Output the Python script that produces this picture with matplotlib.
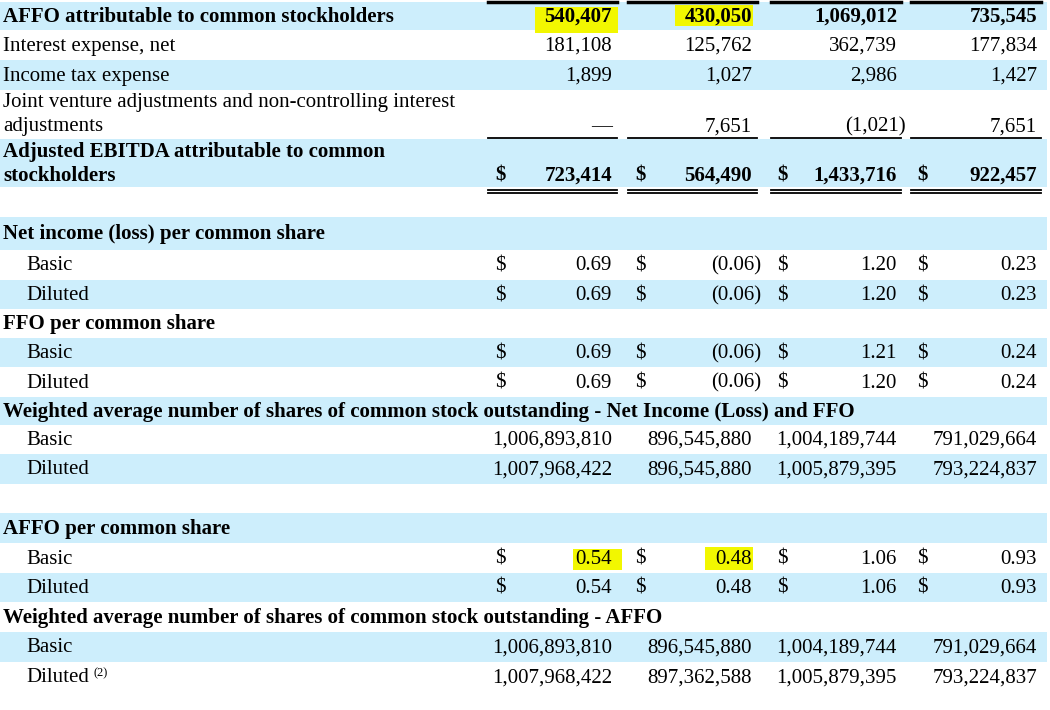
import matplotlib.pyplot as plt
from matplotlib.patches import Rectangle

plt.rcParams['font.family'] = ['Liberation Serif', 'DejaVu Serif']

# rows: (label lines, bold, indent, values, dollar, band)
labels = [
    ['AFFO attributable to common stockholders'],
    ['Interest expense, net'],
    ['Income tax expense'],
    ['Joint venture adjustments and non-controlling interest', 'adjustments'],
    ['Adjusted EBITDA attributable to common', 'stockholders'],
    [],
    ['Net income (loss) per common share'],
    ['Basic'], ['Diluted'],
    ['FFO per common share'],
    ['Basic'], ['Diluted'],
    ['Weighted average number of shares of common stock outstanding - Net Income (Loss) and FFO'],
    ['Basic'], ['Diluted'],
    [],
    ['AFFO per common share'],
    ['Basic'], ['Diluted'],
    ['Weighted average number of shares of common stock outstanding - AFFO'],
    ['Basic'], ['Diluted'],
]
values = [
    ['540,407', '430,050', '1,069,012', '735,545'],
    ['181,108', '125,762', '362,739', '177,834'],
    ['1,899', '1,027', '2,986', '1,427'],
    ['—', '7,651', '(1,021)', '7,651'],
    ['723,414', '564,490', '1,433,716', '922,457'],
    None,
    None,
    ['0.69', '(0.06)', '1.20', '0.23'],
    ['0.69', '(0.06)', '1.20', '0.23'],
    None,
    ['0.69', '(0.06)', '1.21', '0.24'],
    ['0.69', '(0.06)', '1.20', '0.24'],
    None,
    ['1,006,893,810', '896,545,880', '1,004,189,744', '791,029,664'],
    ['1,007,968,422', '896,545,880', '1,005,879,395', '793,224,837'],
    None,
    None,
    ['0.54', '0.48', '1.06', '0.93'],
    ['0.54', '0.48', '1.06', '0.93'],
    None,
    ['1,006,893,810', '896,545,880', '1,004,189,744', '791,029,664'],
    ['1,007,968,422', '897,362,588', '1,005,879,395', '793,224,837'],
]
bold_rows = {0, 4, 6, 9, 12, 16, 19}
dollar_rows = {4, 7, 8, 10, 11, 17, 18}

# row extents (top, bottom) in pixels
row_bounds = [(2, 30), (30, 60), (60, 90), (90, 139), (139, 187), (187, 217),
              (217, 250), (250, 280), (280, 309), (309, 338), (338, 367), (367, 397),
              (397, 425), (425, 454), (454, 484), (484, 513), (513, 543), (543, 573),
              (573, 602), (602, 632), (632, 662), (662, 692)]
blue_rows = {0, 2, 4, 6, 8, 10, 12, 14, 16, 18, 20}

col_right = [612, 752, 897, 1037]
col_dollar = [495, 635, 777, 917]
col_span = [(488, 617), (628, 757), (771, 901), (911, 1041)]

fig = plt.figure(figsize=(10.5, 7.1), dpi=100)
ax = fig.add_axes([0, 0, 1, 1])
ax.set_xlim(0, 1050)
ax.set_ylim(710, 0)
ax.axis('off')

fs = 15
blue = '#cdeefc'
yellow = '#f2f700'

for i, (t, b) in enumerate(row_bounds):
    if i in blue_rows:
        ax.add_patch(Rectangle((0, t), 1047, b - t, color=blue, lw=0, zorder=0))

# highlights
for (x0, y0, w, h) in [(535, 7, 83, 26), (675, 5, 78, 21), (573, 549, 49, 21), (705, 547, 48, 23)]:
    ax.add_patch(Rectangle((x0, y0), w, h, color=yellow, lw=0, zorder=1))

for i, (t, b) in enumerate(row_bounds):
    lab = labels[i]
    weight = 'bold' if i in bold_rows else 'normal'
    indent = 26 if lab and lab[0] in ('Basic', 'Diluted') else 3
    if len(lab) == 2:
        ys = [t + 13, t + 37]
    else:
        ys = [(t + b) / 2 + 1]
    for y, s in zip(ys, lab):
        ax.text(indent, y, s, fontsize=fs, fontweight=weight, va='center', ha='left', zorder=3)
    if i == 21:
        ax.text(94, ys[0] - 5, '(2)', fontsize=9, va='center', ha='left', zorder=3)
    vals = values[i]
    if vals is None:
        continue
    y = ys[-1]
    for c, v in enumerate(vals):
        xr = col_right[c]
        if v.startswith('('):
            xr += 9
        ax.text(xr, y, v, fontsize=fs, fontweight=weight, va='center', ha='right', zorder=3)
        if i in dollar_rows:
            ax.text(col_dollar[c], y, '$', fontsize=fs, fontweight=weight, va='center', ha='left', zorder=3)

# underlines
for (x0, x1) in col_span:
    ax.plot([x0, x1], [2, 2], color='black', lw=2.5, zorder=4)
    ax.plot([x0, x1], [138, 138], color='black', lw=1.3, zorder=4)
    ax.plot([x0, x1], [189.5, 189.5], color='black', lw=1.3, zorder=4)
    ax.plot([x0, x1], [193, 193], color='black', lw=1.3, zorder=4)

fig.savefig('out.png', dpi=100)
